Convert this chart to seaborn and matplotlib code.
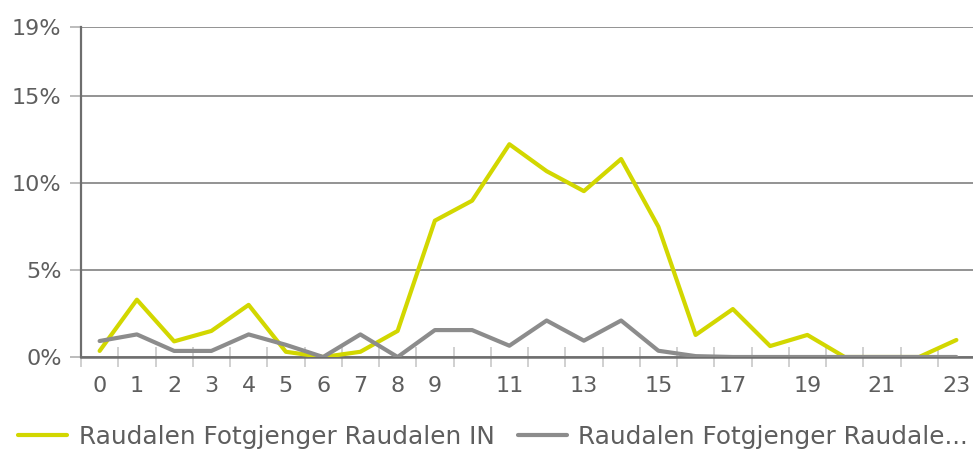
import matplotlib
matplotlib.use("Agg")
import matplotlib.pyplot as plt
import seaborn as sns
import pandas as pd
from matplotlib.ticker import FixedLocator, FuncFormatter

hours = list(range(24))
series_in = [0.35, 3.3, 0.9, 1.5, 3.0, 0.3, 0.0, 0.3, 1.5, 7.85, 9.0, 12.25,
             10.7, 9.55, 11.4, 7.5, 1.27, 2.76, 0.63, 1.27, 0.0, 0.0, 0.0, 0.98]
series_out = [0.92, 1.3, 0.35, 0.35, 1.3, 0.7, 0.0, 1.3, 0.0, 1.55, 1.55, 0.65,
              2.1, 0.94, 2.1, 0.36, 0.05, 0.0, 0.0, 0.0, 0.0, 0.0, 0.0, 0.0]
name_in = "Raudalen Fotgjenger Raudalen IN"
name_out = "Raudalen Fotgjenger Raudale..."
y_ticks = [0, 5, 10, 15, 19]
x_labels = ["0", "1", "2", "3", "4", "5", "6", "7", "8", "9", "", "11", "", "13",
            "", "15", "", "17", "", "19", "", "21", "", "23"]

df = pd.DataFrame({
    "hour": hours * 2,
    "value": series_in + series_out,
    "series": [name_in] * 24 + [name_out] * 24,
})

sns.set_theme(style="white")
plt.rcParams['font.family'] = ['DejaVu Sans']

W, H = 973, 454
fig = plt.figure(figsize=(W / 100, H / 100), dpi=100)
ax = fig.add_axes([81 / W, (H - 357) / H, (975 - 81) / W, (357 - 27) / H])

palette = {name_in: "#d2d700", name_out: "#8c8c8c"}
sns.lineplot(data=df, x="hour", y="value", hue="series", palette=palette,
             linewidth=3.0, ax=ax, legend=True, zorder=3)
handles, labels = ax.get_legend_handles_labels()
ax.get_legend().remove()

ax.set_xlim(-0.5, 23.5)
ax.set_ylim(0, 19)
ax.set_xlabel("")
ax.set_ylabel("")

text_color = "#5e5e5e"

# y grid and ticks
ax.yaxis.set_major_locator(FixedLocator(y_ticks))
ax.yaxis.set_major_formatter(FuncFormatter(lambda v, p: f"{int(v)}%"))
ax.grid(axis="y", color="#8a8a8a", linewidth=1.3)
ax.grid(axis="x", visible=False)
ax.tick_params(axis="y", which="major", length=8, width=1.2, color="#b0b0b0",
               labelsize=16, labelcolor=text_color, pad=6, left=True)

# x ticks: labels at categories, marks at boundaries
ax.set_xticks(hours)
ax.set_xticklabels(x_labels)
ax.tick_params(axis="x", which="major", length=0, labelsize=16,
               labelcolor=text_color, pad=14)
ax.set_xticks([h - 0.5 for h in hours], minor=True)
ax.tick_params(axis="x", which="minor", direction="inout", length=15,
               width=1.1, color="#c4c4c4", bottom=True)

for s in ["top", "right"]:
    ax.spines[s].set_visible(False)
ax.spines["left"].set_color("#6e6e6e")
ax.spines["left"].set_linewidth(1.6)
ax.spines["bottom"].set_color("#6e6e6e")
ax.spines["bottom"].set_linewidth(1.8)

leg = fig.legend(handles, labels, loc="center left",
                 bbox_to_anchor=(18 / W, 1 - 437 / H), ncol=2, frameon=False,
                 fontsize=17.8, handlelength=2.0, handletextpad=0.45,
                 columnspacing=0.95, borderpad=0, borderaxespad=0)
for t in leg.get_texts():
    t.set_color(text_color)
for l in leg.get_lines():
    l.set_linewidth(3.0)

fig.savefig("out.png", dpi=100)
